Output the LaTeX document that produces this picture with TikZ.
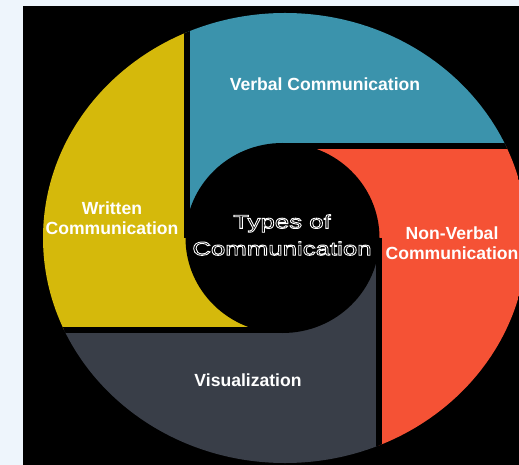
\documentclass[tikz,border=0pt]{standalone}
\usepackage{fontspec}
\setmainfont{Liberation Sans}
\newfontfamily\hubfont{Liberation Sans}[FakeStretch=1.36]
\usetikzlibrary{positioning}
\definecolor{cVerbal}{HTML}{3B93AC}
\definecolor{cNonVerbal}{HTML}{F55235}
\definecolor{cVisual}{HTML}{393E48}
\definecolor{cWritten}{HTML}{D5B90B}
\definecolor{cPaper}{HTML}{EEF5FC}
\newcommand{\outlinetext}[1]{\special{pdf:literal direct 0.5 w 1 Tr}#1\special{pdf:literal direct 0 Tr}}

\begin{document}
\begin{tikzpicture}[x=0.02cm, y=-0.02cm,
  lbl/.style={font=\bfseries\fontsize{10}{11.5}\selectfont, text=white, align=center, inner sep=0pt},
  hub/.style={font=\hubfont\fontsize{10.8}{15.3}\selectfont, text=white, align=center, inner sep=0pt},
  gap/.style={draw=black, line width=0.12cm},
]
  \def\ix{282.5}\def\iy{238}
  \def\xl{186.5}\def\xr{378.5}\def\yt{146}\def\yb{329.5}
  \useasboundingbox (0,0) rectangle (519,465);
  \fill[cPaper] (0,0) rectangle (519,465);
  \fill[black] (23,6) rectangle (519,465);
  \begin{scope}
    \clip (285,238) ellipse [x radius=242, y radius=225];
    \fill[cVerbal] (\xl,\iy) -- (\xl,0) -- (519,0) -- (519,\yt) -- (\ix,\yt) -- (\ix,\iy) -- cycle;
    \fill[cNonVerbal] (\ix,\yt) -- (519,\yt) -- (519,465) -- (\xr,465) -- (\xr,\iy) -- (\ix,\iy) -- cycle;
    \fill[cVisual] (\xr,\iy) -- (\xr,465) -- (0,465) -- (0,\yb) -- (\ix,\yb) -- (\ix,\iy) -- cycle;
    \fill[cWritten] (\ix,\yb) -- (0,\yb) -- (0,0) -- (\xl,0) -- (\xl,\iy) -- (\ix,\iy) -- cycle;
    \fill[black] (\ix,\iy) ellipse [x radius=97, y radius=95];
    \draw[gap] (\xl,\iy) -- (\xl,0);
    \draw[gap] (\ix,\yt) -- (519,\yt);
    \draw[gap] (\xr,\iy) -- (\xr,465);
    \draw[gap] (\ix,\yb) -- (0,\yb);
  \end{scope}
  \node[lbl] (verbal) at (325,84) {Verbal Communication};
  \node[lbl] (nonverbal) at (452,243) {Non-Verbal\\Communication};
  \node[lbl] (visual) at (248,380) {Visualization};
  \node[lbl] (written) at (112,218) {Written\\Communication};
  \node[hub] (types) at (282,235) {\outlinetext{Types of\\Communication}};
\end{tikzpicture}
\end{document}
